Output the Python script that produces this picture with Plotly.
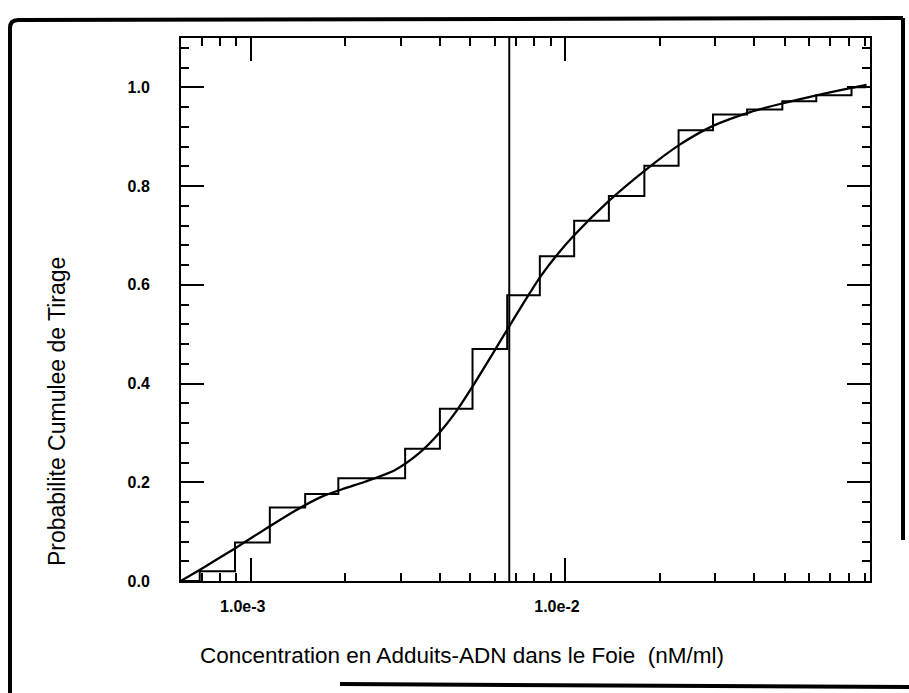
import plotly.graph_objects as go

# Cumulative histogram of the simulated concentrations (bin edges, cumulative level)
step_edges = [6.0e-4, 6.88e-4, 8.91e-4, 1.15e-3, 1.49e-3, 1.90e-3, 3.10e-3, 4.00e-3,
              5.08e-3, 6.55e-3, 8.32e-3, 1.07e-2, 1.38e-2, 1.79e-2, 2.30e-2,
              2.96e-2, 3.80e-2, 4.92e-2, 6.31e-2, 8.17e-2, 9.10e-2]
step_levels = [0.0, 0.020, 0.078, 0.149, 0.176, 0.208, 0.268, 0.349,
               0.470, 0.579, 0.658, 0.730, 0.780, 0.841, 0.913,
               0.945, 0.955, 0.972, 0.984, 1.000, 1.000]

# Fitted cumulative distribution
fit_x = [5.98e-4, 6.98e-4, 8.85e-4, 1.13e-3, 1.38e-3, 1.67e-3, 2.00e-3, 2.31e-3,
         2.88e-3, 3.42e-3, 3.98e-3, 4.50e-3, 5.15e-3, 5.86e-3, 6.65e-3, 7.38e-3,
         8.39e-3, 9.53e-3, 1.05e-2, 1.38e-2, 1.80e-2, 2.32e-2, 2.96e-2, 3.89e-2,
         4.96e-2, 6.32e-2, 8.17e-2, 9.12e-2]
fit_p = [0.0, 0.025, 0.065, 0.108, 0.142, 0.170, 0.188, 0.201,
         0.225, 0.258, 0.300, 0.343, 0.400, 0.458, 0.516, 0.563,
         0.618, 0.664, 0.695, 0.770, 0.832, 0.884, 0.922, 0.950,
         0.968, 0.984, 0.999, 1.005]

# Reference concentration marked by the vertical line
ref_conc = 6.65e-3
ref_span = [0.0, 1.1]

x_tickvals = [1e-3, 1e-2]
x_ticktext = ["1.0e-3", "1.0e-2"]
x_minor = [6e-4, 7e-4, 8e-4, 9e-4,
           2e-3, 3e-3, 4e-3, 5e-3, 6e-3, 7e-3, 8e-3, 9e-3,
           2e-2, 3e-2, 4e-2, 5e-2, 6e-2, 7e-2, 8e-2, 9e-2]

x_title = "Concentration en Adduits-ADN dans le Foie\u00a0 (nM/ml)"
y_title = "Probabilite Cumulee de Tirage"

W, H = 909, 693
L, R, T, B = 181, 39, 38, 112
PW, PH = W - L - R, H - T - B


def px(x):
    return (x - L) / PW


def py(y):
    return (H - B - y) / PH


FONT = "Liberation Sans, Arial, sans-serif"

fig = go.Figure()
fig.add_trace(go.Scatter(x=step_edges, y=step_levels, mode="lines",
                         line=dict(color="black", width=2, shape="hv"),
                         hoverinfo="skip"))
fig.add_trace(go.Scatter(x=fit_x, y=fit_p, mode="lines",
                         line=dict(color="black", width=2.3, shape="spline", smoothing=0.8),
                         hoverinfo="skip"))
fig.add_trace(go.Scatter(x=[ref_conc, ref_conc], y=ref_span, mode="lines",
                         line=dict(color="black", width=2),
                         hoverinfo="skip"))

fig.update_xaxes(type="log", range=[-3.222, -1.029],
                 showline=True, linecolor="black", linewidth=2, mirror="ticks",
                 ticks="inside", ticklen=23, tickwidth=2, tickcolor="black",
                 tickvals=x_tickvals, ticktext=x_ticktext,
                 ticklabelstandoff=10, ticklabelshift=-8,
                 tickfont=dict(family=FONT, size=16, color="black", weight="bold"),
                 minor=dict(ticks="inside", ticklen=8, tickwidth=2, tickcolor="black",
                            tickvals=x_minor, showgrid=False),
                 showgrid=False, zeroline=False)
fig.update_yaxes(range=[0, 1.1], tick0=0, dtick=0.2, tickformat=".1f",
                 showline=True, linecolor="black", linewidth=2, mirror="ticks",
                 ticks="inside", ticklen=23, tickwidth=2, tickcolor="black",
                 ticklabelstandoff=26,
                 tickfont=dict(family=FONT, size=16, color="black", weight="bold"),
                 minor=dict(ticks="inside", ticklen=8, tickwidth=2, tickcolor="black",
                            dtick=0.04, tick0=0, showgrid=False),
                 showgrid=False, zeroline=False)

fig.add_annotation(x=px(462), y=py(655), xref="paper", yref="paper",
                   text=x_title, showarrow=False, xanchor="center", yanchor="middle",
                   font=dict(family=FONT, size=22.5, color="black"))
fig.add_annotation(x=px(57), y=py(412), xref="paper", yref="paper",
                   text=y_title, showarrow=False, textangle=-90,
                   xanchor="center", yanchor="middle",
                   font=dict(family=FONT, size=23, color="black"))

# Page frame around the figure
frame = dict(color="black", width=4)
fig.add_shape(type="path", xref="paper", yref="paper", line=frame,
              path=(f"M {px(10)},{py(693)} L {px(10)},{py(28)} "
                    f"Q {px(10)},{py(20)} {px(18)},{py(20)} L {px(903)},{py(18)}"))
fig.add_shape(type="line", xref="paper", yref="paper", line=frame,
              x0=px(903), y0=py(18), x1=px(903), y1=py(540))
fig.add_shape(type="line", xref="paper", yref="paper", line=frame,
              x0=px(340), y0=py(684), x1=px(909), y1=py(687))

fig.update_layout(width=W, height=H, margin=dict(l=L, r=R, t=T, b=B, autoexpand=False),
                  paper_bgcolor="white", plot_bgcolor="white", showlegend=False)

fig.write_html("out.html")
